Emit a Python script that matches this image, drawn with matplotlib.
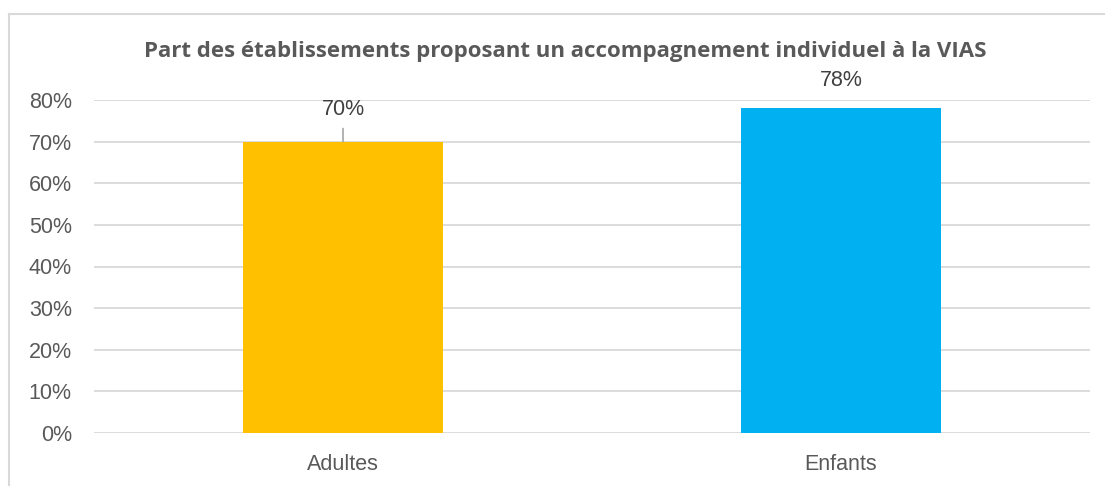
import matplotlib
matplotlib.use("Agg")
import matplotlib.pyplot as plt
from matplotlib.lines import Line2D

categories = ["Adultes", "Enfants"]
values = [70, 78]
colors = ["#FFC000", "#00B0F0"]
yticks = [0, 10, 20, 30, 40, 50, 60, 70, 80]
title = "Part des établissements proposant un accompagnement individuel à la VIAS"

W, H = 1105, 486
fig = plt.figure(figsize=(W / 100, H / 100), dpi=100)

# chart frame (left + top edges only visible in the crop)
fig.add_artist(Line2D([9 / W, 9 / W], [0, 1 - 14 / H], color="#D9D9D9", lw=1.5))
fig.add_artist(Line2D([9 / W, 1], [1 - 14 / H, 1 - 14 / H], color="#D9D9D9", lw=1.5))

x0, x1 = 94, 1090
y_top, y_bot = 100, 433
ax = fig.add_axes([x0 / W, 1 - y_bot / H, (x1 - x0) / W, (y_bot - y_top) / H])

pos = list(range(len(categories)))
ax.bar(pos, values, width=0.40, color=colors, zorder=3)
ax.set_xlim(-0.5, len(categories) - 0.5)
ax.set_ylim(0, 80)
ax.set_yticks(yticks)
ax.set_yticklabels([f"{t}%" for t in yticks])
ax.set_xticks(pos)
ax.set_xticklabels(categories)
ax.grid(axis="y", color="#D9D9D9", lw=1.3, zorder=0)
for s in ax.spines.values():
    s.set_visible(False)
ax.tick_params(length=0, labelsize=15.5, labelcolor="#595959")
ax.tick_params(axis="y", pad=16)
ax.tick_params(axis="x", pad=15)
for lab in ax.get_xticklabels() + ax.get_yticklabels():
    lab.set_family("Liberation Sans")

# data labels: 70% sits higher with a leader line, 78% sits just above its bar
ax.annotate("70%", xy=(0, values[0]), xytext=(0, 23), textcoords="offset points",
            ha="center", va="center", fontsize=15.5, color="#404040", family="Liberation Sans",
            arrowprops=dict(arrowstyle="-", color="#A6A6A6", lw=1.2, shrinkA=4, shrinkB=0))
ax.annotate("78%", xy=(1, values[1]), xytext=(0, 20), textcoords="offset points",
            ha="center", va="center", fontsize=15.5, color="#404040", family="Liberation Sans",
            annotation_clip=False)

fig.text(565 / W, 1 - 52 / H, title, ha="center", va="center", fontsize=16,
         fontweight="bold", color="#595959", family="Open Sans")

fig.savefig("out.png", dpi=100, facecolor="white")
